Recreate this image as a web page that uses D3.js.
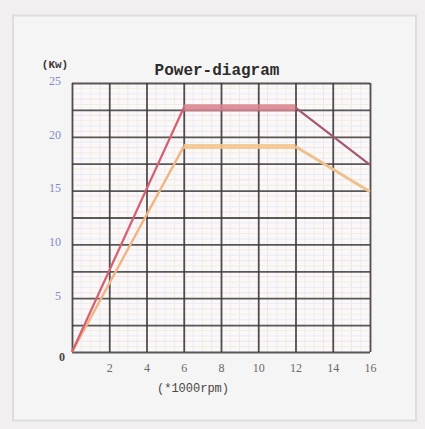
<!DOCTYPE html>
<html><head><meta charset="utf-8">
<script src="https://cdn.jsdelivr.net/npm/d3@7"></script>
<style>
html,body{margin:0;padding:0;background:#f1efef;}
svg{display:block;}
</style></head>
<body>
<svg id="c" width="425" height="429"></svg>
<script>
// ---- data ----
const rpmPoints = [0, 6, 12, 16];            // x (*1000 rpm)
const redPower = [0, 22.7, 22.7, 17.4];      // kW
const orangePower = [0, 19.1, 19.1, 14.9];   // kW
const yTickLabels = [5, 10, 15, 20, 25];
const xTickLabels = [2, 4, 6, 8, 10, 12, 14, 16];
const yGrid = [0, 2.5, 5, 7.5, 10, 12.5, 15, 17.5, 20, 22.5, 25];
const xGrid = [0, 2, 4, 6, 8, 10, 12, 14, 16];

const svg = d3.select("#c");
const W = 425, H = 429;
const L = 72, R = 370, T = 83, B = 352;

// frame
svg.append("rect").attr("x", 0).attr("y", 0).attr("width", W).attr("height", H).attr("fill", "#f1efef");
svg.append("rect").attr("x", 13).attr("y", 15.5).attr("width", 403).attr("height", 405)
  .attr("fill", "#f6f5f5").attr("stroke", "#dedcdc").attr("stroke-width", 2);

const x = d3.scaleLinear().domain([0, 16]).range([L, R]);
const y = d3.scaleLinear().domain([0, 25]).range([B, T]);

// plot background
svg.append("rect").attr("x", L).attr("y", T).attr("width", R - L).attr("height", B - T).attr("fill", "#faf8f8");

// minor grid (faint)
const minorX = d3.range(0, 16.01, 0.5);
const minorY = d3.range(0, 25.01, 0.5);
const minorColors = ["#f3e2e6", "#e9ecf4", "#f3eedf"];
svg.append("g").selectAll("line").data(minorX).join("line")
  .attr("x1", d => x(d)).attr("x2", d => x(d)).attr("y1", T).attr("y2", B)
  .attr("stroke", (d, i) => minorColors[i % 3]).attr("stroke-width", 1);
svg.append("g").selectAll("line").data(minorY).join("line")
  .attr("y1", d => y(d)).attr("y2", d => y(d)).attr("x1", L).attr("x2", R)
  .attr("stroke", (d, i) => minorColors[(i + 1) % 3]).attr("stroke-width", 1);

// major grid
const gy = svg.append("g").attr("transform", `translate(${L},0)`)
  .call(d3.axisLeft(y).tickValues(yGrid).tickSize(-(R - L)).tickFormat(""));
gy.select(".domain").remove();
gy.selectAll("line").attr("stroke", "#4a4646").attr("stroke-width", 1.8).attr("opacity", 0.9);
const gx = svg.append("g").attr("transform", `translate(0,${B})`)
  .call(d3.axisBottom(x).tickValues(xGrid).tickSize(-(B - T)).tickFormat(""));
gx.select(".domain").remove();
gx.selectAll("line").attr("stroke", "#3f3c3c").attr("stroke-width", 1.8).attr("opacity", 0.9);

// series
const pts = (arr) => rpmPoints.map((r, i) => [r, arr[i]]);
const line = d3.line().x(d => x(d[0])).y(d => y(d[1]));

// orange
const o = pts(orangePower);
svg.append("path").attr("d", line(o.slice(1, 3))).attr("fill", "none")
  .attr("stroke", "#f4c58e").attr("stroke-width", 5).attr("opacity", 0.9);
svg.append("path").attr("d", line(o.slice(0, 2))).attr("fill", "none")
  .attr("stroke", "#f0b583").attr("stroke-width", 2.5);
svg.append("path").attr("d", line(o.slice(2))).attr("fill", "none")
  .attr("stroke", "#eec08c").attr("stroke-width", 3);

// red
const r = pts(redPower);
svg.append("path").attr("d", line(r.slice(1, 3))).attr("fill", "none")
  .attr("stroke", "#d87f8c").attr("stroke-width", 7).attr("opacity", 0.85);
svg.append("path").attr("d", line(r.slice(0, 2))).attr("fill", "none")
  .attr("stroke", "#d65f72").attr("stroke-width", 2.2);
svg.append("path").attr("d", line(r.slice(2))).attr("fill", "none")
  .attr("stroke", "#a45872").attr("stroke-width", 2.2);

// y tick labels
const ay = svg.append("g").attr("transform", `translate(${L - 8},0)`)
  .call(d3.axisLeft(y).tickValues(yTickLabels).tickSize(0));
ay.select(".domain").remove();
ay.selectAll("text").attr("fill", "#7f8bc6").attr("font-family", "Liberation Serif, serif")
  .attr("font-size", 12).attr("dy", "0.1em");

// x tick labels
const ax = svg.append("g").attr("transform", `translate(0,${B + 8})`)
  .call(d3.axisBottom(x).tickValues(xTickLabels).tickSize(0));
ax.select(".domain").remove();
ax.selectAll("text").attr("fill", "#6a6767").attr("font-family", "Liberation Serif, serif")
  .attr("font-size", 12);

// origin label
svg.append("text").attr("x", L - 10).attr("y", B + 9).attr("text-anchor", "middle")
  .attr("font-family", "Liberation Serif, serif").attr("font-size", 12).attr("font-weight", "bold")
  .attr("fill", "#444").text("0");

// title and units
svg.append("text").attr("x", 217).attr("y", 75).attr("text-anchor", "middle")
  .attr("font-family", "Liberation Mono, monospace").attr("font-weight", "bold").attr("font-size", 16)
  .attr("fill", "#2e2b2b").text("Power-diagram");
svg.append("text").attr("x", 55).attr("y", 68).attr("text-anchor", "middle")
  .attr("font-family", "Liberation Mono, monospace").attr("font-weight", "bold").attr("font-size", 11)
  .attr("fill", "#3a3737").text("(Kw)");
svg.append("text").attr("x", 193).attr("y", 392).attr("text-anchor", "middle")
  .attr("font-family", "Liberation Mono, monospace").attr("font-size", 12)
  .attr("fill", "#4a4747").text("(*1000rpm)");
</script>
</body></html>
